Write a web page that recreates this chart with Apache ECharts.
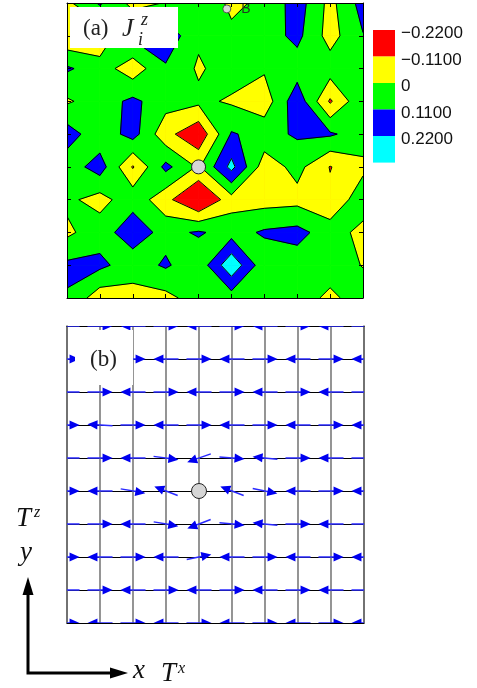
<!DOCTYPE html>
<html><head><meta charset="utf-8">
<script src="https://cdn.jsdelivr.net/npm/echarts@6/dist/echarts.min.js"></script>
<style>html,body{margin:0;padding:0;background:#fff;} #c{width:477px;height:688px;}</style>
</head><body><div id="c"></div>
<script>
// ---- panel (a): J_i^z on a 10x10 lattice (rows listed by y, y=9 is top) ----
const jzY9 = [-0.08, 0.07, -0.09, -0.05, 0.0, -0.07, -0.04, 0.11, -0.09, 0.10];
const jzY8 = [-0.15, -0.15, 0.08, 0.13, -0.035, -0.04, 0.0, 0.085, -0.10, 0.05];
const jzY7 = [0.07, 0.0, -0.12, 0.04, -0.07, 0.0, -0.04, 0.0, 0.0, 0.0];
const jzY6 = [-0.07, 0.0, 0.08, -0.01, -0.03, -0.07, -0.12, 0.13, -0.18, 0.04];
const jzY5 = [0.11, -0.02, 0.10, -0.13, -0.25, 0.065, 0.015, 0.07, 0.07, 0.0];
const jzY4 = [-0.01, 0.11, -0.175, 0.086, -0.07, 0.20, -0.115, -0.02, -0.17, -0.08];
const jzY3 = [-0.03, -0.10, 0.02, -0.13, -0.30, -0.10, -0.10, -0.09, -0.14, 0.01];
const jzY2 = [-0.079, 0.01, 0.11, 0.02, 0.068, 0.01, 0.07, 0.09, 0.0, -0.09];
const jzY1 = [0.078, 0.08, 0.0, 0.07, -0.02, 0.25, -0.02, 0.0, 0.0, -0.06];
const jzY0 = [0.045, -0.12, -0.10, -0.09, 0.0, 0.0, 0.0, 0.0, -0.08, 0.0];
const contourLevels = [-0.165, -0.055, 0.055, 0.165];
const bandColors = ['#ff0000', '#ffff00', '#00ff00', '#0000ff', '#00ffff'];
const legendLabels = ['\u22120.2200', '\u22120.1100', '0', '0.1100', '0.2200'];
const impurity = [4, 4];
const markerB = [4.86, 8.82];

// ---- panel (b): (T^x, T^z) per site ----
const txY9 = [-1, 1, -1, 1, -1, 1, -1, 1, -1, 1];
const tzY9 = [0, 0, 0, 0, 0, 0, 0, 0, 0, 0];
const txY8 = [1, -1, 1, -1, 1, -1, 1, -1, 1, -1];
const tzY8 = [0, 0, 0, 0, 0, 0, 0, 0, 0, 0];
const txY7 = [-1, 1, -1, 1, -1, 1, -1, 1, -1, 1];
const tzY7 = [0, 0, 0, 0, 0, 0, 0, 0, 0, 0];
const txY6 = [1, -1, 1, -1, 1, -1, 1, -1, 1, -1];
const tzY6 = [0, 0.05, 0, 0, 0, 0, 0, 0, 0, 0];
const txY5 = [-1, 1, -1, 0.99, -0.94, 1, -0.99, 1, -1, 1];
const tzY5 = [0, 0, 0, -0.13, -0.33, -0.08, 0.1, 0, 0, 0];
const txY4 = [1, -1, 0.98, -0.93, 0, -0.93, 0.98, -1, 1, -1];
const tzY4 = [0, 0, -0.17, 0.36, 0, 0.36, -0.2, 0, 0, 0];
const txY3 = [-1, 1, -1, 0.98, -0.93, 1, -0.99, 1, -1, 1];
const tzY3 = [0, 0, 0, -0.17, -0.36, -0.09, 0.1, 0, 0, 0];
const txY2 = [1, -1, 1, -1, 0.98, -1, 1, -1, 1, -1];
const tzY2 = [0, 0, 0, 0, 0.2, 0, 0, 0, 0, 0];
const txY1 = [-1, 1, -1, 1, -1, 1, -1, 1, -1, 1];
const tzY1 = [0, 0, 0, 0, 0, 0, 0, 0, 0, 0];
const txY0 = [1, -1, 1, -1, 1, -1, 1, -1, 1, -1];
const tzY0 = [0, 0, 0, 0, 0, 0, 0, 0, 0, 0];

const jz = [jzY0, jzY1, jzY2, jzY3, jzY4, jzY5, jzY6, jzY7, jzY8, jzY9];
const tx = [txY0, txY1, txY2, txY3, txY4, txY5, txY6, txY7, txY8, txY9];
const tz = [tzY0, tzY1, tzY2, tzY3, tzY4, tzY5, tzY6, tzY7, tzY8, tzY9];
const N = 10;

const cells = [];
for (let j = 0; j < N - 1; j++) for (let i = 0; i < N - 1; i++) cells.push([i, j]);
const sites = [];
for (let j = 0; j < N; j++) for (let i = 0; i < N; i++) {
  if (tx[j][i] === 0 && tz[j][i] === 0) continue;
  sites.push([i, j, tx[j][i], tz[j][i]]);
}

function cellCorners(i, j) {
  const c = [[i, j], [i + 1, j], [i + 1, j + 1], [i, j + 1]];
  return { c, v: c.map(p => jz[p[1]][p[0]]) };
}
// region {value >= t} inside one cell (marching squares, asymptotic decider for saddles)
function isoParts(c, v, t) {
  const ins = v.map(x => x >= t);
  const cr = (a, b) => {
    const f = (t - v[a]) / (v[b] - v[a]);
    return [c[a][0] + f * (c[b][0] - c[a][0]), c[a][1] + f * (c[b][1] - c[a][1])];
  };
  const cnt = ins.filter(Boolean).length;
  if (cnt === 2 && ins[0] === ins[2]) {
    const s = (v[0] * v[2] - v[1] * v[3]) / (v[0] + v[2] - v[1] - v[3]);
    if (s < t) {
      const parts = [];
      for (let k = 0; k < 4; k++) if (ins[k]) {
        const pv = (k + 3) % 4, nx = (k + 1) % 4;
        const a = cr(pv, k), b = cr(k, nx);
        parts.push({ pts: [a, c[k], b], segs: [[b, a]] });
      }
      return parts;
    }
  }
  const pts = [], cross = [];
  for (let a = 0; a < 4; a++) {
    const b = (a + 1) % 4;
    if (ins[a]) { pts.push(c[a]); cross.push(false); }
    if (ins[a] !== ins[b]) { pts.push(cr(a, b)); cross.push(true); }
  }
  if (pts.length < 3) return [];
  const segs = [];
  for (let k = 0; k < pts.length; k++) {
    const k2 = (k + 1) % pts.length;
    if (cross[k] && cross[k2]) segs.push([pts[k], pts[k2]]);
  }
  return [{ pts, segs }];
}

function renderFill(params, api) {
  const i = api.value(0), j = api.value(1);
  const { c, v } = cellCorners(i, j);
  const children = [{
    type: 'polygon', z2: 0,
    shape: { points: c.map(p => api.coord(p)) },
    style: { fill: bandColors[0], stroke: bandColors[0], lineWidth: 0.8 }
  }];
  contourLevels.forEach((t, k) => {
    isoParts(c, v, t).forEach(part => {
      children.push({
        type: 'polygon', z2: k + 1,
        shape: { points: part.pts.map(p => api.coord(p)) },
        style: { fill: bandColors[k + 1], stroke: bandColors[k + 1], lineWidth: 0.8 }
      });
    });
  });
  return { type: 'group', children };
}
function renderLines(params, api) {
  const i = api.value(0), j = api.value(1);
  const { c, v } = cellCorners(i, j);
  const children = [];
  contourLevels.forEach(t => {
    isoParts(c, v, t).forEach(part => {
      part.segs.forEach(sg => {
        const p1 = api.coord(sg[0]), p2 = api.coord(sg[1]);
        children.push({ type: 'line', shape: { x1: p1[0], y1: p1[1], x2: p2[0], y2: p2[1] },
          style: { stroke: '#000', lineWidth: 1 } });
      });
    });
  });
  return { type: 'group', children };
}
function renderArrow(params, api) {
  const x = api.value(0), y = api.value(1), ax = api.value(2), az = api.value(3);
  const half = 0.38;
  const p0 = api.coord([x - half * ax, y - half * az]);
  const p1 = api.coord([x + half * ax, y + half * az]);
  const dx = p1[0] - p0[0], dy = p1[1] - p0[1];
  const len = Math.sqrt(dx * dx + dy * dy);
  const ux = dx / len, uy = dy / len, nx = -uy, ny = ux;
  const hl = 10, hw = 4.6;
  const bx = p1[0] - ux * hl, by = p1[1] - uy * hl;
  return { type: 'group', children: [
    { type: 'line', shape: { x1: p0[0], y1: p0[1], x2: bx + ux, y2: by + uy },
      style: { stroke: '#2a2aff', lineWidth: 1.5 } },
    { type: 'polygon', shape: { points: [[p1[0], p1[1]], [bx + nx * hw, by + ny * hw], [bx - nx * hw, by - ny * hw]] },
      style: { fill: '#0000f0' } }
  ] };
}

const serif = '"Liberation Serif", "DejaVu Serif", serif';
const sans = '"Liberation Sans", Arial, sans-serif';
function ax(grid, pos, extra) {
  return Object.assign({
    gridIndex: grid, type: 'value', min: 0, max: 9, interval: 1, position: pos, z: 10,
    axisLine: { show: true, onZero: false, lineStyle: { color: '#000', width: 1 } },
    axisTick: { show: true, inside: true, length: 4, lineStyle: { color: '#000', width: 1 } },
    axisLabel: { show: false }, splitLine: { show: false }
  }, extra || {});
}
const gNoTick = { axisTick: { show: false } };

const graphics = [];
bandColors.forEach((col, k) => {
  graphics.push({ type: 'rect', left: 373, top: 30 + 26.5 * k, shape: { width: 22, height: 26.6 },
    style: { fill: col }, z: 100 });
  graphics.push({ type: 'text', x: 401, y: 30 + 26.5 * k + 3.5,
    style: { text: legendLabels[k], fill: '#111', font: '17px ' + sans, textVerticalAlign: 'middle' }, z: 100 });
});
graphics.push({ type: 'rect', shape: { x: 70, y: 7, width: 108, height: 41 }, style: { fill: '#fff' }, z: 100 });
graphics.push({ type: 'text', x: 83, y: 29, style: { text: '(a)', fill: '#222', font: '23px ' + serif, textVerticalAlign: 'middle' }, z: 101 });
graphics.push({ type: 'text', x: 122, y: 29, style: { text: 'J', fill: '#222', font: 'italic 26px ' + serif, textVerticalAlign: 'middle' }, z: 101 });
graphics.push({ type: 'text', x: 141, y: 20, style: { text: 'z', fill: '#222', font: 'italic 18px ' + serif, textVerticalAlign: 'middle' }, z: 101 });
graphics.push({ type: 'text', x: 138, y: 40, style: { text: 'i', fill: '#222', font: 'italic 18px ' + serif, textVerticalAlign: 'middle' }, z: 101 });
graphics.push({ type: 'rect', shape: { x: 75, y: 330, width: 58, height: 55 }, style: { fill: '#fff' }, z: 100 });
graphics.push({ type: 'text', x: 90, y: 360, style: { text: '(b)', fill: '#222', font: '23px ' + serif, textVerticalAlign: 'middle' }, z: 101 });
graphics.push({ type: 'polyline', shape: { points: [[28, 592], [28, 673], [112, 673]] }, style: { stroke: '#000', lineWidth: 3, fill: null }, z: 100 });
graphics.push({ type: 'polygon', shape: { points: [[28, 577], [22.5, 595], [33.5, 595]] }, style: { fill: '#000' }, z: 100 });
graphics.push({ type: 'polygon', shape: { points: [[128, 673], [110, 667.5], [110, 678.5]] }, style: { fill: '#000' }, z: 100 });
graphics.push({ type: 'text', x: 16, y: 519, style: { text: 'T', fill: '#111', font: 'italic 27px ' + serif, textVerticalAlign: 'middle' }, z: 100 });
graphics.push({ type: 'text', x: 34, y: 513, style: { text: 'z', fill: '#111', font: 'italic 16px ' + serif, textVerticalAlign: 'middle' }, z: 100 });
graphics.push({ type: 'text', x: 20, y: 553, style: { text: 'y', fill: '#111', font: 'italic 27px ' + serif, textVerticalAlign: 'middle' }, z: 100 });
graphics.push({ type: 'text', x: 133, y: 671, style: { text: 'x', fill: '#111', font: 'italic 27px ' + serif, textVerticalAlign: 'middle' }, z: 100 });
graphics.push({ type: 'text', x: 161, y: 674, style: { text: 'T', fill: '#111', font: 'italic 27px ' + serif, textVerticalAlign: 'middle' }, z: 100 });
graphics.push({ type: 'text', x: 178, y: 669, style: { text: 'x', fill: '#111', font: 'italic 16px ' + serif, textVerticalAlign: 'middle' }, z: 100 });

const option = {
  animation: false,
  backgroundColor: '#fff',
  grid: [
    { left: 67, top: 3, width: 296, height: 295 },
    { left: 67, top: 326, width: 297, height: 297 }
  ],
  xAxis: [
    ax(0, 'bottom'), ax(0, 'top'),
    ax(1, 'bottom', Object.assign({ z: 1, splitLine: { show: true, lineStyle: { color: '#7a7a7a', width: 1.6 } } }, gNoTick)),
    ax(1, 'top', Object.assign({ z: 1 }, gNoTick))
  ],
  yAxis: [
    ax(0, 'left'), ax(0, 'right'),
    ax(1, 'left', Object.assign({ z: 1, axisLine: { show: true, onZero: false, lineStyle: { color: '#6a6a6a', width: 1.6 } },
      splitLine: { show: true, lineStyle: { color: '#000', width: 1 } } }, gNoTick)),
    ax(1, 'right', Object.assign({ z: 1, axisLine: { show: true, onZero: false, lineStyle: { color: '#6a6a6a', width: 1.6 } } }, gNoTick))
  ],
  series: [
    { type: 'custom', xAxisIndex: 0, yAxisIndex: 0, data: cells, renderItem: renderFill, clip: true, z: 2, silent: true },
    { type: 'custom', xAxisIndex: 0, yAxisIndex: 0, data: cells, renderItem: renderLines, clip: true, z: 3, silent: true },
    { type: 'scatter', xAxisIndex: 0, yAxisIndex: 0, data: [impurity], symbolSize: 14, z: 5,
      itemStyle: { color: '#d6d6d6', borderColor: '#222', borderWidth: 1, opacity: 1 } },
    { type: 'scatter', xAxisIndex: 0, yAxisIndex: 0, data: [markerB], symbolSize: 8, z: 5,
      itemStyle: { color: '#d6d6d6', borderColor: '#333', borderWidth: 0.8, opacity: 1 },
      label: { show: true, formatter: 'B', position: 'right', distance: 10, color: '#243524', fontSize: 14, fontFamily: sans } },
    { type: 'custom', xAxisIndex: 2, yAxisIndex: 2, data: sites, renderItem: renderArrow, clip: true, z: 3, silent: true },
    { type: 'scatter', xAxisIndex: 2, yAxisIndex: 2, data: [impurity], symbolSize: 15, z: 5,
      itemStyle: { color: '#d6d6d6', borderColor: '#222', borderWidth: 1, opacity: 1 } }
  ],
  graphic: graphics
};
const chart = echarts.init(document.getElementById('c'), null, { renderer: 'canvas' });
chart.setOption(option);
</script></body></html>
